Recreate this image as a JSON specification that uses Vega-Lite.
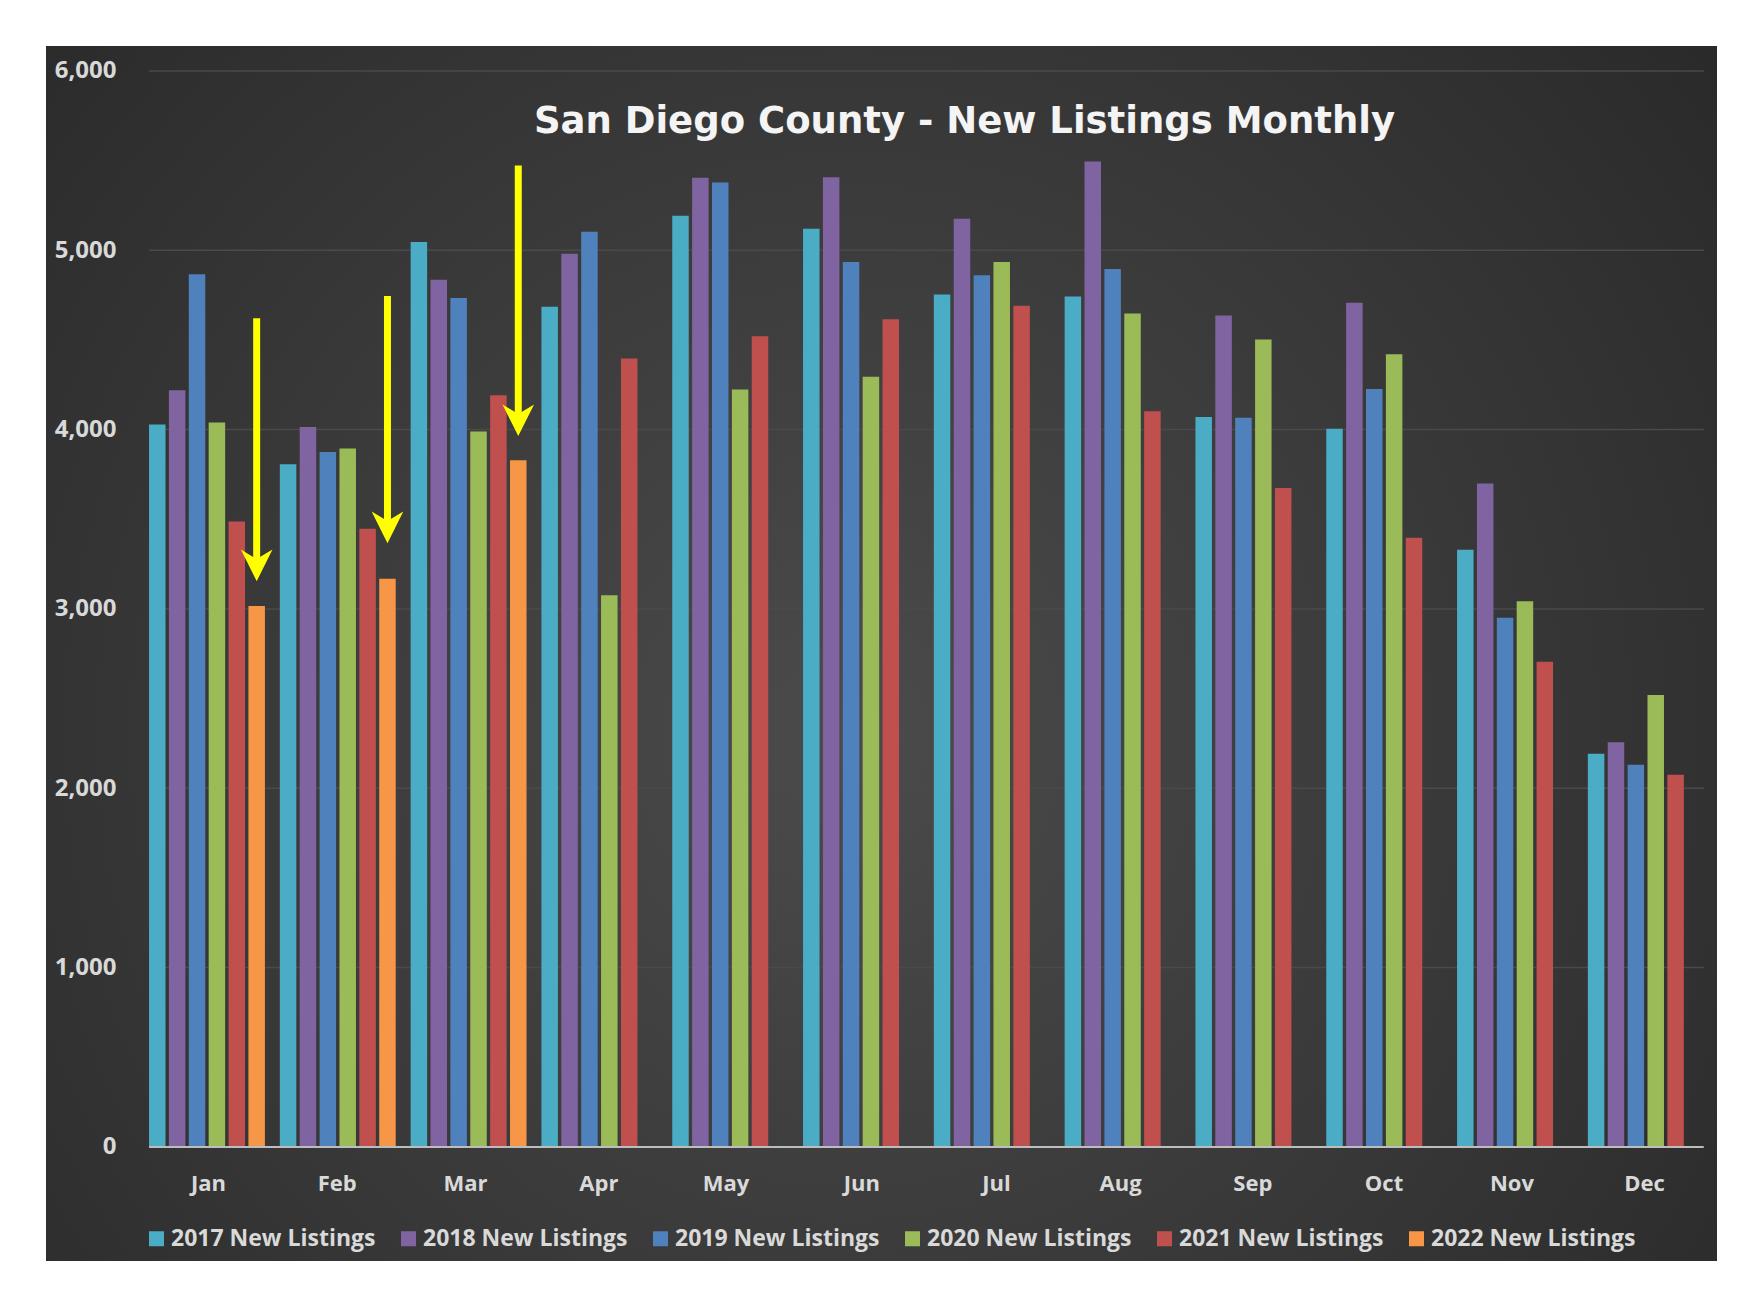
{
  "$schema": "https://vega.github.io/schema/vega-lite/v6.json",
  "width": 1671,
  "height": 1215,
  "autosize": {"type": "none"},
  "padding": {"left": 46, "top": 46, "right": 46, "bottom": 46},
  "background": "#ffffff",
  "config": {
    "view": {
      "stroke": null,
      "fill": {"gradient": "radial", "x1": 0.48, "y1": 0.55, "r1": 0, "x2": 0.48, "y2": 0.55, "r2": 0.72,
        "stops": [{"offset": 0, "color": "#4b4b4b"}, {"offset": 1, "color": "#272727"}]}
    },
    "font": "Open Sans"
  },
  "title": {
    "text": "San Diego County - New Listings Monthly",
    "font": "DejaVu Sans",
    "fontSize": 37,
    "fontWeight": "bold",
    "color": "#f4f4f4",
    "anchor": "middle",
    "frame": "group",
    "baseline": "alphabetic",
    "offset": -124,
    "dx": 83
  },
  "datasets": {
    "listings": [
      {"month": "Jan", "series": "2017 New Listings", "value": 4028},
      {"month": "Jan", "series": "2018 New Listings", "value": 4219},
      {"month": "Jan", "series": "2019 New Listings", "value": 4866},
      {"month": "Jan", "series": "2020 New Listings", "value": 4039},
      {"month": "Jan", "series": "2021 New Listings", "value": 3488},
      {"month": "Jan", "series": "2022 New Listings", "value": 3016},
      {"month": "Feb", "series": "2017 New Listings", "value": 3807},
      {"month": "Feb", "series": "2018 New Listings", "value": 4015},
      {"month": "Feb", "series": "2019 New Listings", "value": 3875},
      {"month": "Feb", "series": "2020 New Listings", "value": 3894},
      {"month": "Feb", "series": "2021 New Listings", "value": 3447},
      {"month": "Feb", "series": "2022 New Listings", "value": 3168},
      {"month": "Mar", "series": "2017 New Listings", "value": 5046},
      {"month": "Mar", "series": "2018 New Listings", "value": 4836},
      {"month": "Mar", "series": "2019 New Listings", "value": 4734},
      {"month": "Mar", "series": "2020 New Listings", "value": 3990},
      {"month": "Mar", "series": "2021 New Listings", "value": 4191},
      {"month": "Mar", "series": "2022 New Listings", "value": 3829},
      {"month": "Apr", "series": "2017 New Listings", "value": 4685},
      {"month": "Apr", "series": "2018 New Listings", "value": 4981},
      {"month": "Apr", "series": "2019 New Listings", "value": 5103},
      {"month": "Apr", "series": "2020 New Listings", "value": 3077},
      {"month": "Apr", "series": "2021 New Listings", "value": 4396},
      {"month": "May", "series": "2017 New Listings", "value": 5193},
      {"month": "May", "series": "2018 New Listings", "value": 5405},
      {"month": "May", "series": "2019 New Listings", "value": 5378},
      {"month": "May", "series": "2020 New Listings", "value": 4224},
      {"month": "May", "series": "2021 New Listings", "value": 4520},
      {"month": "Jun", "series": "2017 New Listings", "value": 5120},
      {"month": "Jun", "series": "2018 New Listings", "value": 5407},
      {"month": "Jun", "series": "2019 New Listings", "value": 4935},
      {"month": "Jun", "series": "2020 New Listings", "value": 4295},
      {"month": "Jun", "series": "2021 New Listings", "value": 4616},
      {"month": "Jul", "series": "2017 New Listings", "value": 4754},
      {"month": "Jul", "series": "2018 New Listings", "value": 5176},
      {"month": "Jul", "series": "2019 New Listings", "value": 4860},
      {"month": "Jul", "series": "2020 New Listings", "value": 4935},
      {"month": "Jul", "series": "2021 New Listings", "value": 4690},
      {"month": "Aug", "series": "2017 New Listings", "value": 4742},
      {"month": "Aug", "series": "2018 New Listings", "value": 5495},
      {"month": "Aug", "series": "2019 New Listings", "value": 4895},
      {"month": "Aug", "series": "2020 New Listings", "value": 4647},
      {"month": "Aug", "series": "2021 New Listings", "value": 4103},
      {"month": "Sep", "series": "2017 New Listings", "value": 4070},
      {"month": "Sep", "series": "2018 New Listings", "value": 4636},
      {"month": "Sep", "series": "2019 New Listings", "value": 4066},
      {"month": "Sep", "series": "2020 New Listings", "value": 4503},
      {"month": "Sep", "series": "2021 New Listings", "value": 3674},
      {"month": "Oct", "series": "2017 New Listings", "value": 4005},
      {"month": "Oct", "series": "2018 New Listings", "value": 4708},
      {"month": "Oct", "series": "2019 New Listings", "value": 4226},
      {"month": "Oct", "series": "2020 New Listings", "value": 4420},
      {"month": "Oct", "series": "2021 New Listings", "value": 3397},
      {"month": "Nov", "series": "2017 New Listings", "value": 3330},
      {"month": "Nov", "series": "2018 New Listings", "value": 3700},
      {"month": "Nov", "series": "2019 New Listings", "value": 2951},
      {"month": "Nov", "series": "2020 New Listings", "value": 3043},
      {"month": "Nov", "series": "2021 New Listings", "value": 2706},
      {"month": "Dec", "series": "2017 New Listings", "value": 2193},
      {"month": "Dec", "series": "2018 New Listings", "value": 2256},
      {"month": "Dec", "series": "2019 New Listings", "value": 2131},
      {"month": "Dec", "series": "2020 New Listings", "value": 2520},
      {"month": "Dec", "series": "2021 New Listings", "value": 2075}
    ],
    "grid": [{"v": 1000}, {"v": 2000}, {"v": 3000}, {"v": 4000}, {"v": 5000}, {"v": 6000}],
    "baseline": [{"v": 0}],
    "arrows": [
      {"month": "Jan", "series": "2022 New Listings", "start": 4621, "end": 3243},
      {"month": "Feb", "series": "2022 New Listings", "start": 4745, "end": 3455},
      {"month": "Mar", "series": "2022 New Listings", "start": 5473, "end": 4052}
    ]
  },
  "layer": [
    {
      "data": {"name": "grid"},
      "mark": {"type": "rule", "color": "#4a4a4a", "strokeWidth": 1.5},
      "encoding": {
        "x": {"datum": "Jan", "bandPosition": 0},
        "x2": {"datum": "Dec", "bandPosition": 1},
        "y": {"field": "v", "type": "quantitative"}
      }
    },
    {
      "data": {"name": "listings"},
      "mark": {"type": "bar"},
      "encoding": {
        "x": {
          "field": "month", "type": "nominal",
          "scale": {"domain": ["Jan", "Feb", "Mar", "Apr", "May", "Jun", "Jul", "Aug", "Sep", "Oct", "Nov", "Dec"],
            "paddingInner": 0.114, "paddingOuter": 0.4445, "align": 0.886},
          "axis": {
            "title": null, "orient": "bottom", "offset": -115, "domain": false, "ticks": false,
            "labelAngle": 0, "labelFont": "Open Sans", "labelFontWeight": "bold", "labelFontSize": 22,
            "labelColor": "#d9d9d9", "labelPadding": 44, "labelBaseline": "alphabetic", "labelOffset": 19
          }
        },
        "xOffset": {"field": "series", "type": "nominal", "scale": {"paddingInner": 0.17, "paddingOuter": 0}},
        "y": {
          "field": "value", "type": "quantitative", "stack": null,
          "scale": {"domain": [-636, 6139], "nice": false, "zero": false},
          "axis": {
            "title": null, "grid": false, "domain": false, "ticks": false, "tickSize": 0,
            "values": [0, 1000, 2000, 3000, 4000, 5000, 6000], "format": ",d",
            "offset": -74, "labelPadding": 4,
            "labelFont": "Open Sans", "labelFontWeight": "bold", "labelFontSize": 24, "labelColor": "#d9d9d9"
          }
        },
        "y2": {"datum": 0},
        "color": {
          "field": "series", "type": "nominal",
          "scale": {
            "domain": ["2017 New Listings", "2018 New Listings", "2019 New Listings", "2020 New Listings", "2021 New Listings", "2022 New Listings"],
            "range": ["#4bacc6", "#8064a2", "#4f81bd", "#9bbb59", "#c0504d", "#f79646"]
          },
          "legend": {
            "title": null, "orient": "none", "direction": "horizontal", "columns": 6,
            "legendX": 99, "legendY": 1181,
            "symbolType": "square", "symbolSize": 225, "symbolStrokeWidth": 0,
            "labelFont": "Open Sans", "labelFontWeight": "bold", "labelFontSize": 23, "labelColor": "#d9d9d9",
            "labelOffset": 3, "labelLimit": 400, "columnPadding": 21
          }
        }
      }
    },
    {
      "data": {"name": "baseline"},
      "mark": {"type": "rule", "color": "#bdbdbd", "strokeWidth": 2},
      "encoding": {
        "x": {"datum": "Jan", "bandPosition": 0},
        "x2": {"datum": "Dec", "bandPosition": 1},
        "y": {"field": "v", "type": "quantitative"}
      }
    },
    {
      "data": {"name": "arrows"},
      "mark": {"type": "rule", "color": "#ffff00", "strokeWidth": 7},
      "encoding": {
        "x": {"field": "month", "type": "nominal"},
        "xOffset": {"field": "series", "type": "nominal"},
        "y": {"field": "start", "type": "quantitative"},
        "y2": {"field": "end"}
      }
    },
    {
      "data": {"name": "arrows"},
      "mark": {"type": "point", "shape": "M-1,-1L0,-0.4L1,-1L0,1Z", "filled": true, "color": "#ffff00", "opacity": 1, "size": 1000, "strokeWidth": 0},
      "encoding": {
        "x": {"field": "month", "type": "nominal"},
        "xOffset": {"field": "series", "type": "nominal"},
        "y": {"field": "end", "type": "quantitative"}
      }
    }
  ]
}
